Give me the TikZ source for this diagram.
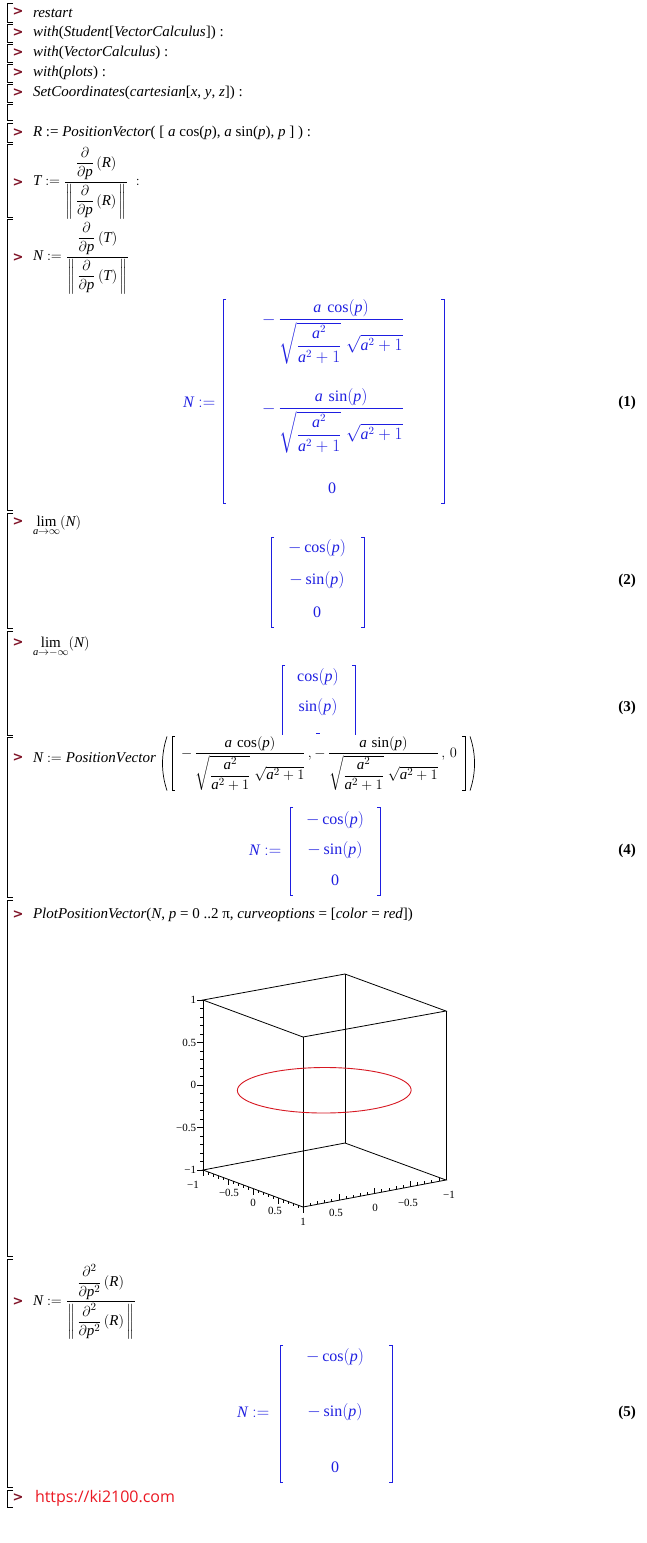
\documentclass[tikz,border=0pt]{standalone}
\usepackage{amsmath}
\usepackage{fontspec}
\setmainfont{Liberation Serif}
\newfontfamily\dejavu{DejaVu Sans}
\newfontfamily\urlfnt{Open Sans}
\definecolor{mred}{RGB}{128,20,40}
\definecolor{mblue}{RGB}{30,30,225}
\definecolor{urlred}{RGB}{235,25,35}
\definecolor{crvred}{RGB}{215,25,35}
\newcommand\mv[1]{\mathit{#1}}
\newcommand\grpbr[2]{\draw[grp] (13,#1) -- (7,#1) -- (7,#2) -- (13,#2);}
\newcommand\mbrk[4]{\draw[mbr] (#1+3,#3) -- (#1,#3) -- (#1,#4) -- (#1+3,#4); \draw[mbr] (#2-3,#3) -- (#2,#3) -- (#2,#4) -- (#2-3,#4);}
\newcommand\Nden{\sqrt{\dfrac{\mv{a}^2}{\mv{a}^2+1}}\;\sqrt{\mv{a}^2+1}}
\begin{document}
\begin{tikzpicture}[x=1pt,y=-1pt,
  every node/.style={inner sep=0pt,outer sep=0pt},
  inp/.style={anchor=west,font=\fontsize{15}{18}\selectfont,black},
  minp/.style={anchor=west,font=\fontsize{15}{18}\selectfont,black},
  outp/.style={font=\fontsize{16}{19}\selectfont,text=mblue},
  lbl/.style={font=\fontsize{15}{18}\selectfont\bfseries},
  prm/.style={font=\fontsize{13}{15}\selectfont\dejavu\bfseries,text=mred},
  tkl/.style={font=\fontsize{11}{13}\selectfont},
  grp/.style={line width=0.8pt,black},
  mbr/.style={mblue,line width=0.9pt},
  ibr/.style={black,line width=0.7pt},
  edge3/.style={black,line width=0.8pt},
  tick3/.style={black,line width=0.5pt}]
\useasboundingbox (0,0) rectangle (647,1543);
\fill[white] (0,0) rectangle (647,1543);
% group brackets
\grpbr{3}{22}
\grpbr{24}{42}
\grpbr{44}{62}
\grpbr{64}{82}
\grpbr{84}{102}
\grpbr{104}{120}
\grpbr{123}{142}
\grpbr{144}{217}
\grpbr{219}{510}
\grpbr{513}{628}
\grpbr{631}{735}
\grpbr{737}{897}
\grpbr{900}{1256}
\grpbr{1259}{1487}
\grpbr{1490}{1507}
% prompts
\foreach \py [count=\k] in {12,33,53,73,93,133,183,258,522,643,758,915,1302,1498}
  \node[prm] (pr\k) at (18,\py) {>};
% inputs
\node[inp] (i1) at (33,13) {\textit{restart}};
\node[inp] (i2) at (33,33) {\textit{with}(\textit{Student}[\textit{VectorCalculus}]) :};
\node[inp] (i3) at (33,53) {\textit{with}(\textit{VectorCalculus}) :};
\node[inp] (i4) at (33,73) {\textit{with}(\textit{plots}) :};
\node[inp] (i5) at (33,93) {\textit{SetCoordinates}(\textit{cartesian}[\textit{x}, \textit{y}, \textit{z}]) :};
\node[inp] (i7) at (33,133) {\textit{R} := \textit{PositionVector}( [ \textit{a} cos(\textit{p}), \textit{a} sin(\textit{p}), \textit{p} ] ) :};
\node[minp] (i8) at (33,183) {$\mv{T} := \dfrac{\dfrac{\partial}{\partial\mv{p}}\,(\mv{R})}{\left\|\,\dfrac{\partial}{\partial\mv{p}}\,(\mv{R})\,\right\|}\ :$};
\node[minp] (i9) at (33,258) {$\mv{N} := \dfrac{\dfrac{\partial}{\partial\mv{p}}\,(\mv{T})}{\left\|\,\dfrac{\partial}{\partial\mv{p}}\,(\mv{T})\,\right\|}$};
% output 1
\node[outp,anchor=west] (o1n) at (183,402) {$\mv{N} :=$};
\mbrk{223}{444}{299}{503}
\node[outp,anchor=base] (o1a) at (333,324) {$-\,\dfrac{\mv{a}\,\cos(\mv{p})}{\Nden}$};
\node[outp,anchor=base] (o1b) at (333,413) {$-\,\dfrac{\mv{a}\,\sin(\mv{p})}{\Nden}$};
\node[outp] (o1c) at (332,488) {0};
\node[lbl] (l1) at (627,403) {(1)};
% lim 1
\node[minp,anchor=base west] (i10) at (33,526) {$\lim\limits_{\scriptstyle \mv{a}\rightarrow\infty}(\mv{N})$};
\mbrk{271}{364}{537}{627}
\node[outp] (o2a) at (317,548) {$-\cos(\mv{p})$};
\node[outp] (o2b) at (317,580) {$-\sin(\mv{p})$};
\node[outp] (o2c) at (317,612) {0};
\node[lbl] (l2) at (627,581) {(2)};
% lim 2
\node[minp,anchor=base west] (i11) at (33,647) {$\lim\limits_{\scriptstyle \mv{a}\rightarrow-\infty}(\mv{N})$};
\draw[mbr] (285,665) -- (282,665) -- (282,735);
\draw[mbr] (352,665) -- (355,665) -- (355,735);
\node[outp] (o3a) at (318,677) {$\cos(\mv{p})$};
\node[outp] (o3b) at (318,707) {$\sin(\mv{p})$};
\draw[mbr] (316,733) -- (320,733);
\node[lbl] (l3) at (627,708) {(3)};
% position vector
\node[minp,anchor=base west] (pvh) at (33,762) {$\mv{N} := \mv{PositionVector}$};
\node[minp,anchor=base west] (pvc) at (181,757) {$-\,\dfrac{\mv{a}\,\cos(\mv{p})}{\Nden}\,,-\,\dfrac{\mv{a}\,\sin(\mv{p})}{\Nden}\,,\,0$};
\draw[ibr] ([xshift=-6pt]pvc.north west) -- ([xshift=-9pt]pvc.north west) -- ([xshift=-9pt]pvc.south west) -- ([xshift=-6pt]pvc.south west);
\draw[ibr] ([xshift=5pt]pvc.north east) -- ([xshift=8pt]pvc.north east) -- ([xshift=8pt]pvc.south east) -- ([xshift=5pt]pvc.south east);
\draw[ibr] ([xshift=-14pt]pvc.north west) .. controls ([xshift=-20pt,yshift=-18pt]pvc.north west) and ([xshift=-20pt,yshift=18pt]pvc.south west) .. ([xshift=-14pt]pvc.south west);
\draw[ibr] ([xshift=13pt]pvc.north east) .. controls ([xshift=19pt,yshift=-18pt]pvc.north east) and ([xshift=19pt,yshift=18pt]pvc.south east) .. ([xshift=13pt]pvc.south east);
\node[outp,anchor=west] (o4n) at (249,850) {$\mv{N} :=$};
\mbrk{290}{380}{807}{895}
\node[outp] (o4a) at (335,820) {$-\cos(\mv{p})$};
\node[outp] (o4b) at (335,850) {$-\sin(\mv{p})$};
\node[outp] (o4c) at (335,880) {0};
\node[lbl] (l4) at (627,851) {(4)};
% plot command
\node[inp] (i13) at (33,915) {\textit{PlotPositionVector}(\textit{N}, \textit{p} = 0 ..2 π, \textit{curveoptions} = [\textit{color} = \textit{red}])};
% 3d box
\coordinate (TL) at (203,1000); \coordinate (TB) at (345,974);
\coordinate (TR) at (446,1011); \coordinate (TF) at (303,1037);
\coordinate (BL) at (203,1170); \coordinate (BB) at (345,1143);
\coordinate (BR) at (446,1180); \coordinate (BF) at (303,1207);
\draw[edge3] (TL) -- (TB) -- (TR) -- (TF) -- cycle;
\draw[edge3] (BL) -- (BB) -- (BR) -- (BF) -- cycle;
\draw[edge3] (TL) -- (BL) (TB) -- (BB) (TR) -- (BR) (TF) -- (BF);
\draw[crvred,line width=0.9pt] plot[domain=0:360,samples=120,smooth] ({324.25+71*cos(\x)+50*sin(\x)},{1090.25-13.25*cos(\x)+18.5*sin(\x)});
% z ticks
\foreach \v in {-10,...,10} \draw[tick3] (200,{1085-8.5*\v}) -- (203,{1085-8.5*\v});
\foreach \v in {-2,...,2} \draw[tick3] (197,{1085-42.5*\v}) -- (203,{1085-42.5*\v});
\node[tkl,anchor=east] (z1) at (196,1000) {1};
\node[tkl,anchor=east] (z2) at (196,1042.5) {0.5};
\node[tkl,anchor=east] (z3) at (196,1085) {0};
\node[tkl,anchor=east] (z4) at (196,1127.5) {−0.5};
\node[tkl,anchor=east] (z5) at (196,1170) {−1};
% bottom-left edge ticks (down)
\foreach \v in {0,...,20} \draw[tick3] ({203+5*\v},{1170+1.85*\v}) -- ++(0,3);
\foreach \v in {0,...,4} \draw[tick3] ({203+25*\v},{1170+9.25*\v}) -- ++(0,6);
% bottom-right edge ticks (up)
\foreach \v in {0,...,20} \draw[tick3] ({303+7.15*\v},{1207-1.35*\v}) -- ++(0,-3);
\foreach \v in {0,...,4} \draw[tick3] ({303+35.75*\v},{1207-6.75*\v}) -- ++(0,-6);
\node[tkl] (x1) at (193,1185) {−1};
\node[tkl] (x2) at (229,1193) {−0.5};
\node[tkl] (x3) at (253,1203) {0};
\node[tkl] (x4) at (275,1211) {0.5};
\node[tkl] (x5) at (303,1222) {1};
\node[tkl] (y1) at (336,1213) {0.5};
\node[tkl] (y2) at (375,1208) {0};
\node[tkl] (y3) at (408,1203) {−0.5};
\node[tkl] (y4) at (449,1195) {−1};
% last N
\node[minp] (i14) at (33,1302) {$\mv{N} := \dfrac{\dfrac{\partial^2}{\partial\mv{p}^2}\,(\mv{R})}{\left\|\,\dfrac{\partial^2}{\partial\mv{p}^2}\,(\mv{R})\,\right\|}$};
\node[outp,anchor=west] (o5n) at (237,1412) {$\mv{N} :=$};
\mbrk{280}{392}{1345}{1482}
\node[outp] (o5a) at (335,1357) {$-\cos(\mv{p})$};
\node[outp] (o5b) at (335,1412) {$-\sin(\mv{p})$};
\node[outp] (o5c) at (335,1467) {0};
\node[lbl] (l5) at (627,1413) {(5)};
% url
\node[anchor=west,font=\fontsize{16}{19}\selectfont\urlfnt,text=urlred] (url) at (35,1498) {https://ki2100.com};
\end{tikzpicture}
\end{document}
